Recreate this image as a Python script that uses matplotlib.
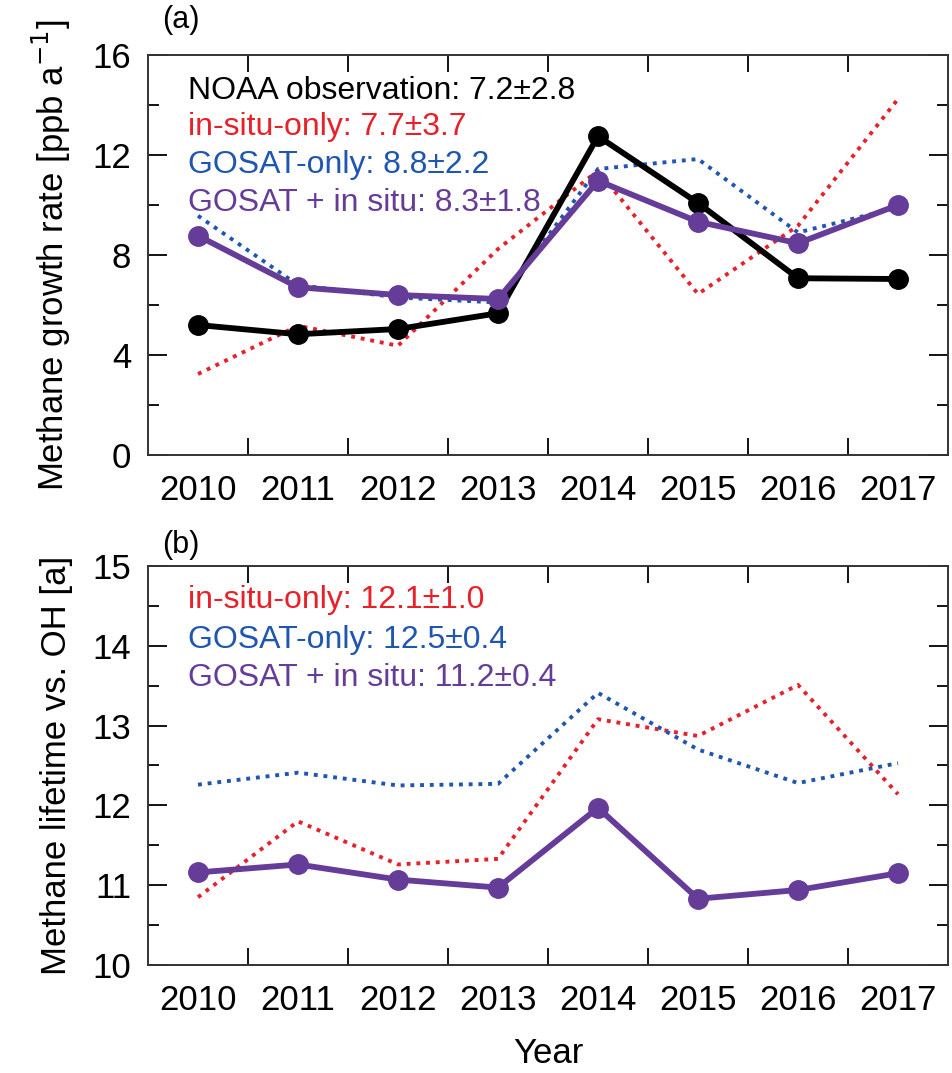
import matplotlib
matplotlib.use("Agg")
import matplotlib.pyplot as plt
from matplotlib.ticker import MultipleLocator, FixedLocator, NullFormatter

plt.rcParams['font.family'] = ['Liberation Sans', 'DejaVu Sans']

years = [2010, 2011, 2012, 2013, 2014, 2015, 2016, 2017]
year_labels = [str(y) for y in years]

a_noaa = [5.2, 4.83, 5.04, 5.67, 12.75, 10.08, 7.07, 7.04]
a_insitu = [3.24, 5.17, 4.37, 8.24, 11.37, 6.44, 9.17, 14.24]
a_gosat = [9.57, 6.8, 6.3, 6.1, 11.44, 11.84, 8.9, 9.9]
a_both = [8.77, 6.71, 6.4, 6.24, 10.97, 9.33, 8.47, 10.0]

b_insitu = [10.85, 11.8, 11.26, 11.33, 13.08, 12.87, 13.51, 12.14]
b_gosat = [12.26, 12.41, 12.25, 12.27, 13.41, 12.7, 12.28, 12.53]
b_both = [11.16, 11.26, 11.07, 10.97, 11.97, 10.83, 10.94, 11.15]

RED = '#e8202a'
BLUE = '#1f56b0'
PURPLE = '#663c99'

W, H = 952, 1073
fig = plt.figure(figsize=(W/100, H/100), dpi=100)
axa = fig.add_axes([148/W, 1-455/H, 800/W, 400/H])
axb = fig.add_axes([148/W, 1-965/H, 800/W, 399/H])

TS = 25

def style(ax, ylim, major, minor):
    ax.set_xlim(years[0]-0.5, years[-1]+0.5)
    ax.set_ylim(*ylim)
    ax.xaxis.set_major_locator(FixedLocator([y+0.5 for y in years[:-1]]))
    ax.xaxis.set_major_formatter(NullFormatter())
    ax.xaxis.set_minor_locator(FixedLocator(years))
    ax.set_xticklabels(year_labels, minor=True)
    ax.tick_params(axis='x', which='minor', length=0, labelsize=TS, pad=14)
    ax.tick_params(axis='x', which='major', direction='in', length=12, width=1.3, top=True, bottom=True)
    ax.yaxis.set_major_locator(MultipleLocator(major))
    ax.yaxis.set_minor_locator(MultipleLocator(minor))
    ax.tick_params(axis='y', which='major', direction='in', length=14, width=1.3, left=True, right=True, labelsize=TS, pad=12)
    ax.tick_params(axis='y', which='minor', direction='in', length=8, width=1.3, left=True, right=True)
    for s in ax.spines.values():
        s.set_linewidth(1.4)
        s.set_color('#333333')

style(axa, (0, 16), 4, 2)
style(axb, (10, 15), 1, 0.5)

dot = dict(ls=(0, (1, 1.5)), lw=2.8)
axa.plot(years, a_insitu, color=RED, **dot)
axa.plot(years, a_gosat, color=BLUE, **dot)
axa.plot(years, a_noaa, color='black', lw=4.2, marker='o', ms=14)
axa.plot(years, a_both, color=PURPLE, lw=4.2, marker='o', ms=14)

axb.plot(years, b_insitu, color=RED, **dot)
axb.plot(years, b_gosat, color=BLUE, **dot)
axb.plot(years, b_both, color=PURPLE, lw=4.2, marker='o', ms=14)

fs = 23
for txt, c, y in [('NOAA observation: 7.2±2.8', 'black', 0.91),
                  ('in-situ-only: 7.7±3.7', RED, 0.82),
                  ('GOSAT-only: 8.8±2.2', BLUE, 0.725),
                  ('GOSAT + in situ: 8.3±1.8', PURPLE, 0.63)]:
    axa.text(0.05, y, txt, color=c, fontsize=fs, transform=axa.transAxes, va='center')
for txt, c, y in [('in-situ-only: 12.1±1.0', RED, 0.915),
                  ('GOSAT-only: 12.5±0.4', BLUE, 0.815),
                  ('GOSAT + in situ: 11.2±0.4', PURPLE, 0.72)]:
    axb.text(0.05, y, txt, color=c, fontsize=fs, transform=axb.transAxes, va='center')

axa.set_ylabel('Methane growth rate [ppb a$^{-1}$]', fontsize=TS, labelpad=14)
axb.set_ylabel('Methane lifetime vs. OH [a]', fontsize=TS, labelpad=14)
axb.set_xlabel('Year', fontsize=TS, labelpad=14)
fig.text(162/W, 1-20/H, '(a)', fontsize=22, va='center')
fig.text(162/W, 1-545/H, '(b)', fontsize=22, va='center')

fig.savefig('out.png', dpi=100)
